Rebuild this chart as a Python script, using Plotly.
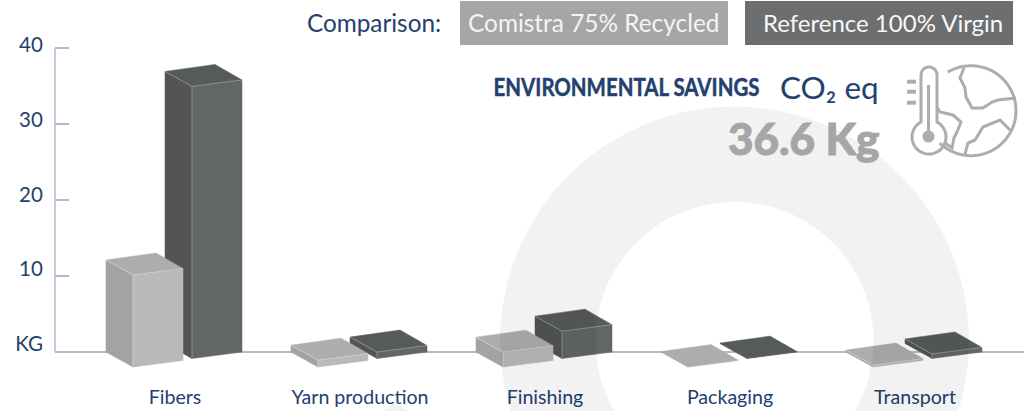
import math
import plotly.graph_objects as go

# ---------- data ----------
categories = ["Fibers", "Yarn production", "Finishing", "Packaging", "Transport"]
recycled_kg = [12.1, 0.9, 1.95, 0.05, 0.25]
virgin_kg = [35.8, 0.85, 3.6, 0.05, 0.6]
y_ticks = [0, 10, 20, 30, 40]
y_tick_labels = ["KG", "10", "20", "30", "40"]
series_names = ["Comistra 75% Recycled", "Reference 100% Virgin"]

# ---------- page / plot geometry ----------
W, H = 1035, 411
L, R, T, B = 55, 1024, 20, 376
BASE_PX = 352
PX_PER_KG = 7.6
PX_PER_CAT = 185
CAT0_PX = 175
x_range = [(L - CAT0_PX) / PX_PER_CAT, (R - CAT0_PX) / PX_PER_CAT]
y_range = [(BASE_PX - B) / PX_PER_KG, (BASE_PX - T) / PX_PER_KG]
LBL0_PX, LBL_PX_PER_KG = 344, 7.475
y2_range = [(LBL0_PX - B) / LBL_PX_PER_KG, (LBL0_PX - T) / LBL_PX_PER_KG]

NAVY = "#24406e"
AXIS = "#b8b6cd"
GREY_TEXT = "#a6a6a6"
ICON = "#adadad"
FONT = "Lato"

STYLES = [
    dict(side="#a3a3a3", front="#b9b9b9", top="#adadad", edge="#dcdcdc", ox=-69, oy=0),
    dict(side="#535455", front="#636666", top="#575a5b", edge="#a9abac", ox=-10, oy=8.5),
]


def off(i, dx_px, kg, up_px):
    """Data coordinates of a corner: category + pixel depth projection + value."""
    return i + dx_px / PX_PER_CAT, kg + up_px / PX_PER_KG


def box_traces(values, st, name):
    out = []
    for i, v in enumerate(values):
        ox, oy = st["ox"], st["oy"]
        lb = off(i, ox, 0, oy)
        lt = off(i, ox, v, oy)
        fb = off(i, ox + 27, 0, oy - 15)
        ft = off(i, ox + 27, v, oy - 15)
        rb = off(i, ox + 77, 0, oy - 8.5)
        rt = off(i, ox + 77, v, oy - 8.5)
        bt = off(i, ox + 50, v, oy + 7)
        faces = [
            ([lb, lt, ft, fb, lb], st["side"]),
            ([fb, ft, rt, rb, fb], st["front"]),
            ([lt, bt, rt, ft, lt], st["top"]),
        ]
        for pts, col in faces:
            out.append(go.Scatter(
                x=[p[0] for p in pts], y=[p[1] for p in pts], mode="lines",
                fill="toself", fillcolor=col, line=dict(color=col, width=0.5),
                name=name, showlegend=False, hoverinfo="skip"))
        if v > 0.1:
            e = [lt, ft, rt, None, ft, fb]
            out.append(go.Scatter(
                x=[p[0] if p else None for p in e], y=[p[1] if p else None for p in e],
                mode="lines", line=dict(color=st["edge"], width=0.6),
                name=name, showlegend=False, hoverinfo="skip"))
    return out


fig = go.Figure()
for vals, st, nm in zip([virgin_kg, recycled_kg], [STYLES[1], STYLES[0]], series_names[::-1]):
    for t in box_traces(vals, st, nm):
        fig.add_trace(t)
# carrier for the label axis
fig.add_trace(go.Scatter(x=[None], y=[None], yaxis="y2", showlegend=False, hoverinfo="skip"))


# ---------- decoration helpers (pixel -> paper) ----------
def px(x, y):
    return f"{(x - L) / (R - L):.5f},{(B - y) / (B - T):.5f}"


def poly(points, close=False):
    s = "M" + " L".join(px(x, y) for x, y in points)
    return s + (" Z" if close else "")


def arc(cx, cy, r, a0, a1, n=90):
    return [(cx + r * math.cos(math.radians(a0 + (a1 - a0) * k / n)),
             cy + r * math.sin(math.radians(a0 + (a1 - a0) * k / n))) for k in range(n + 1)]


def pshape(path, fill=None, line=None, width=0):
    d = dict(type="path", xref="paper", yref="paper", path=path, layer="above",
             line=dict(width=width, color=line or "rgba(0,0,0,0)"))
    if fill:
        d["fillcolor"] = fill
    return d


RING = "rgba(0,0,0,0.05)"
RCX, RCY = 734.5, 341
ring_path = poly(arc(RCX, RCY, 234.5, 0, 360), True) + " " + poly(arc(RCX, RCY, 139, 0, 360), True)
shapes = [
    pshape(ring_path, fill=RING),
    pshape(poly([(395, 402), (410, 413), (380, 413)], True), fill=RING),
    pshape(poly([(460, 1), (728, 1), (728, 45), (460, 45)], True), fill="#a6a6a6"),
    pshape(poly([(745, 1), (1013, 1), (1013, 45), (745, 45)], True), fill="#6d6e70"),
    # vertical axis line drawn on the data scale
    dict(type="line", xref="paper", yref="y", x0=0, x1=0, y0=0, y1=y_ticks[-1],
         line=dict(color=AXIS, width=1.5), layer="below"),
]

# thermometer + globe icon
a0 = math.degrees(math.atan2(122 - 137, 937 - 929))
a1 = math.degrees(math.atan2(122 - 137, 921 - 929)) + 360
tube_bulb = [(921, 75)] + arc(929, 75, 8, 180, 360, 20) + arc(929, 137, 17, a0, a1, 50) + [(921, 75)]
ICON_W = 3
shapes += [
    pshape(poly(tube_bulb), line=ICON, width=ICON_W),
    pshape(poly([(928.5, 85), (928.5, 135)]), line=ICON, width=3),
    pshape(poly(arc(928.5, 136.5, 6, 0, 360, 30), True), fill=ICON),
    pshape(poly(arc(971, 110.7, 45, -121, 134)), line=ICON, width=ICON_W),
    pshape(poly([(964, 68), (960, 78), (965, 88), (966, 97), (972, 108), (983, 108),
                 (992, 102), (998, 100), (1016, 98)]), line=ICON, width=ICON_W),
    pshape(poly([(937, 107), (940, 112), (953, 115), (961, 122), (957, 132), (954, 138),
                 (952, 148), (945, 143)]), line=ICON, width=ICON_W),
    pshape(poly([(965, 154), (968, 143), (975, 140), (983, 127), (1000, 120), (1010, 130)]),
           line=ICON, width=ICON_W),
]
for yy in (81.7, 91.7, 102.7):
    shapes.append(pshape(poly([(907, yy), (916, yy)]), line=ICON, width=4))


def ann(x, y, text, size, color=NAVY, family=FONT, xanchor="left", weight=None, **kw):
    f = dict(family=family, size=size, color=color)
    if weight:
        f["weight"] = weight
    return dict(xref="paper", yref="paper", x=(x - L) / (R - L), y=(B - y) / (B - T),
                text=text, showarrow=False, xanchor=xanchor, yanchor="middle", font=f, **kw)


HEAD_X0, HEAD_W = 493, 266
annotations = [
    ann(305, 23, "Comparison:", 24.3),
    ann(593, 23, series_names[0], 24.4, color="#f4f4f4", xanchor="center"),
    ann(882.5, 23, series_names[1], 24, color="#f8f8f8", xanchor="center"),
    ann(HEAD_X0 + HEAD_W / 2, 86, "ENVIRONMENTAL SAVINGS", 25, xanchor="center", weight=700),
    ann(778, 87, "CO₂ eq", 31.5),
    ann(881, 138, "36.6 Kg", 44, color=GREY_TEXT, xanchor="right", weight=900),
]

fig.update_layout(
    width=W, height=H, autosize=False,
    margin=dict(l=L, r=W - R, t=T, b=H - B, pad=0),
    paper_bgcolor="white", plot_bgcolor="rgba(0,0,0,0)",
    showlegend=False, shapes=shapes, annotations=annotations,
    font=dict(family=FONT, color=NAVY),
    xaxis=dict(range=x_range, tickmode="array", tickvals=list(range(len(categories))),
               ticktext=categories, showgrid=False, zeroline=False, showline=False,
               automargin=False, ticks="outside", ticklen=3, tickcolor="rgba(0,0,0,0)",
               tickfont=dict(family=FONT, size=19.6, color=NAVY), fixedrange=True),
    yaxis=dict(range=y_range, tickmode="array", tickvals=y_ticks, showticklabels=False,
               automargin=False, showgrid=False, showline=False, ticks="inside", ticklen=14,
               tickcolor=AXIS, tickwidth=1.5, zeroline=True, zerolinecolor=AXIS,
               zerolinewidth=1.5, fixedrange=True),
    yaxis2=dict(range=y2_range, overlaying="y", anchor="x", side="left", tickmode="array",
                tickvals=y_ticks, ticktext=y_tick_labels, showgrid=False, zeroline=False,
                automargin=False, showline=False, ticks="outside", ticklen=7,
                tickcolor="rgba(0,0,0,0)",
                tickfont=dict(family=FONT, size=20.5, color=NAVY), fixedrange=True),
)

# the heading is a condensed face in the reference: scale the real text to its width;
# the two heavy texts get a hair of stroke to reach the reference's weight
squeeze = (
    "document.body.style.margin='0';document.documentElement.style.overflow='hidden';"
    "document.querySelectorAll('text').forEach(function(t){"
    "if(t.textContent==='ENVIRONMENTAL SAVINGS'){"
    "var b=t.getBBox(),c=b.x+b.width/2;"
    f"t.setAttribute('transform','translate('+c+',0) scale('+({HEAD_W}/b.width)+',1) translate('+(-c)+',0)');"
    f"t.style.stroke='{NAVY}';t.style.strokeWidth='0.5px';"
    "}"
    "if(t.textContent==='36.6 Kg'){"
    f"t.style.stroke='{GREY_TEXT}';t.style.strokeWidth='1px';"
    "}});"
)
fig.write_html("out.html", config=dict(displayModeBar=False), post_script=squeeze)
